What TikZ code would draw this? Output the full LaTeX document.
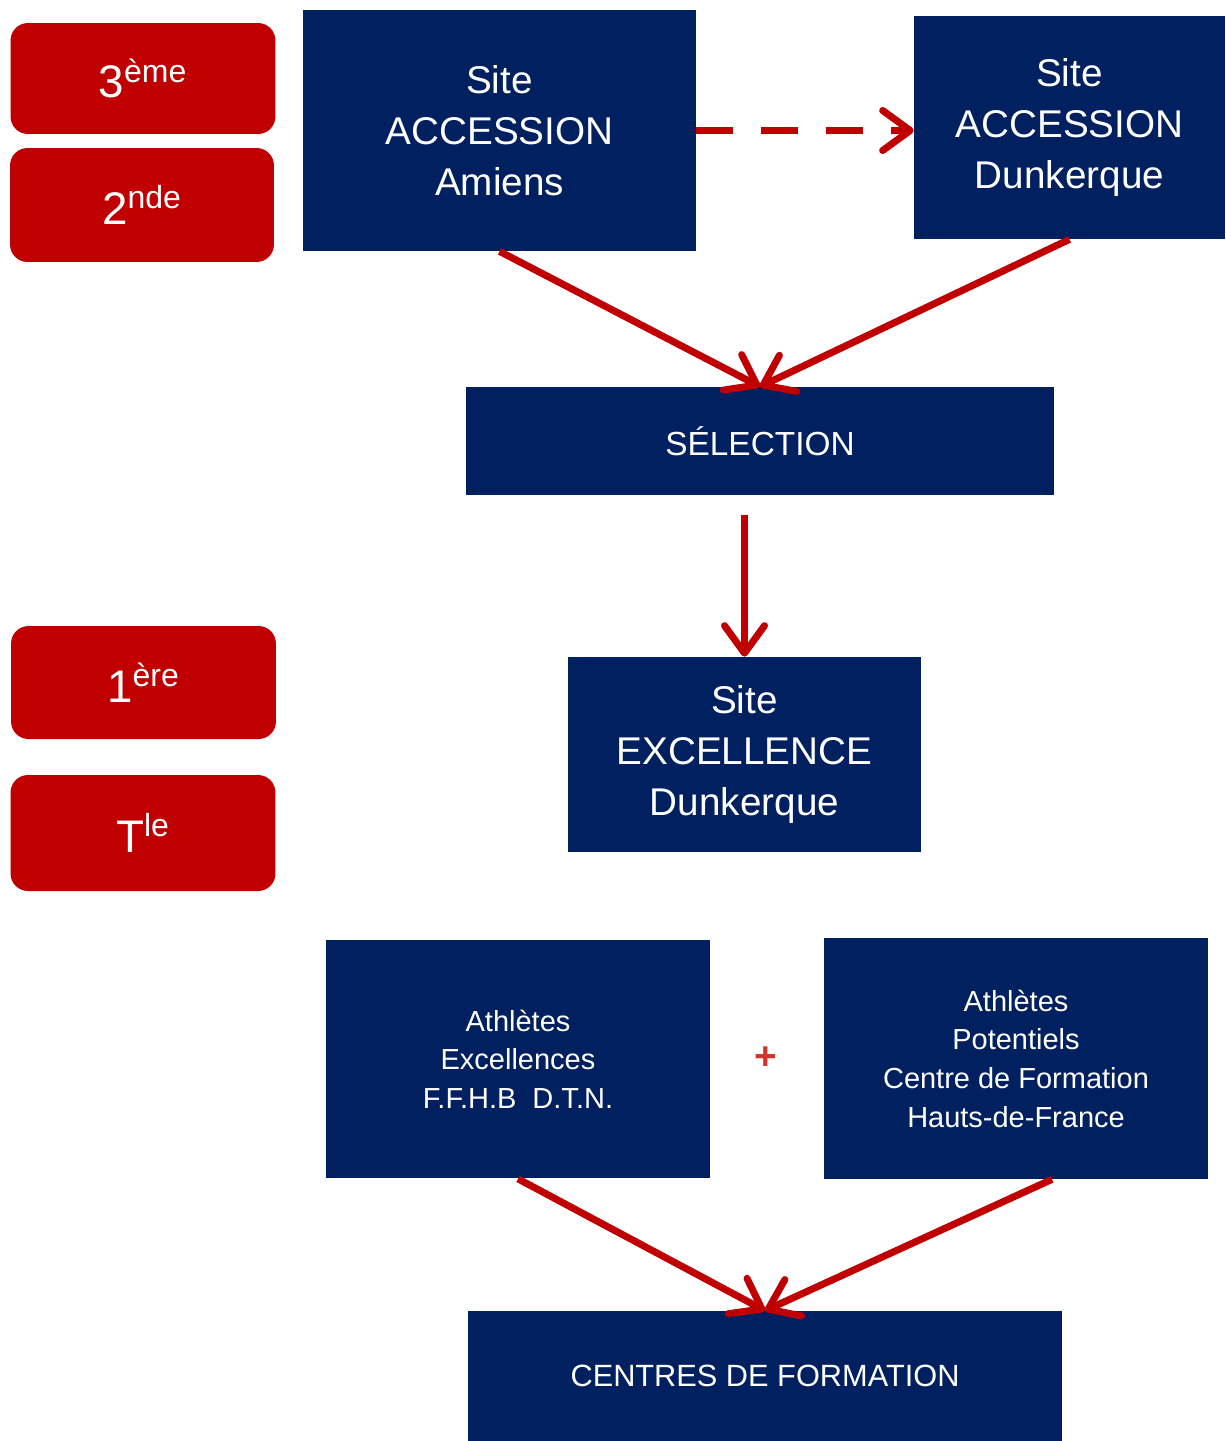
\documentclass[tikz,border=0pt]{standalone}
\usepackage{fontspec}
\setmainfont{Liberation Sans}
\usetikzlibrary{arrows.meta}
\definecolor{navy}{RGB}{0,32,96}
\definecolor{darkred}{RGB}{192,0,0}
\definecolor{plusred}{RGB}{208,52,44}
\tikzstyle{site} =[rectangle, fill=navy, text=white, align=center, inner sep=0pt, font=\fontsize{22}{29}\selectfont]
\tikzstyle{athlete} =[rectangle, fill=navy, text=white, align=center, inner sep=0pt, minimum width=7.68cm, minimum height=4.78cm, font=\fontsize{16.5}{22}\selectfont]
\tikzstyle{level} =[rectangle, rounded corners=0.35cm, fill=darkred, text=white, minimum width=5.3cm, minimum height=2.26cm, font=\fontsize{26}{30}\selectfont]
\tikzstyle{arrow} =[draw=darkred, line width=4pt, -{Straight Barb[length=0.55cm,width=0.8cm,round]}]

\begin{document}
\begin{tikzpicture}[x=0.02cm, y=-0.02cm]
\useasboundingbox (0,0) rectangle (1225,1441);
% school years
\node (troisieme) [level, minimum height=2.22cm] at (143,78.5) {3\textsuperscript{ème}};
\node (seconde) [level, minimum width=5.28cm, minimum height=2.28cm] at (142,205) {2\textsuperscript{nde}};
\node (premiere) [level] at (143.5,682.5) {1\textsuperscript{ère}};
\node (terminale) [level, minimum height=2.32cm] at (143,833) {T\textsuperscript{le}};
% sites
\node (amiens) [site, minimum width=7.86cm, minimum height=4.82cm] at (499.5,130.5) {Site\\ACCESSION\\Amiens};
\node (dunkA) [site, minimum width=6.22cm, minimum height=4.46cm] at (1069.5,127.5) {Site\\ACCESSION\\Dunkerque};
\node (selection) [site, minimum width=11.76cm, minimum height=2.16cm, font=\fontsize{19}{22}\selectfont] at (760,441) {SÉLECTION};
\node (excellence) [site, minimum width=7.06cm, minimum height=3.9cm] at (744.5,754.5) {Site\\EXCELLENCE\\Dunkerque};
% athletes
\node (athEx) [athlete] at (518,1059) {Athlètes\\Excellences\\F.F.H.B\ \ D.T.N.};
\node (athPot) [athlete, minimum height=4.82cm] at (1016,1058.5) {Athlètes\\Potentiels\\Centre de Formation\\Hauts-de-France};
\node (plus) [text=plusred, font=\fontsize{22}{22}\selectfont\bfseries] at (766,1058) {+};
\node (centres) [site, minimum width=11.88cm, minimum height=2.6cm, font=\fontsize{17.5}{22}\selectfont] at (765,1376) {CENTRES DE FORMATION};
\draw [arrow, dash pattern=on 21pt off 16pt] (amiens.east) -- (amiens.east -| dunkA.west);
\draw [arrow] (amiens.south) -- (selection.north);
\draw [arrow] (dunkA.south) -- (selection.north);
\draw [arrow] ([yshift=-0.4cm]selection.south -| excellence.north) -- (excellence.north);
\draw [arrow] (athEx.south) -- (centres.north);
\draw [arrow] ([xshift=0.72cm]athPot.south) -- (centres.north);
\end{tikzpicture}
\end{document}
